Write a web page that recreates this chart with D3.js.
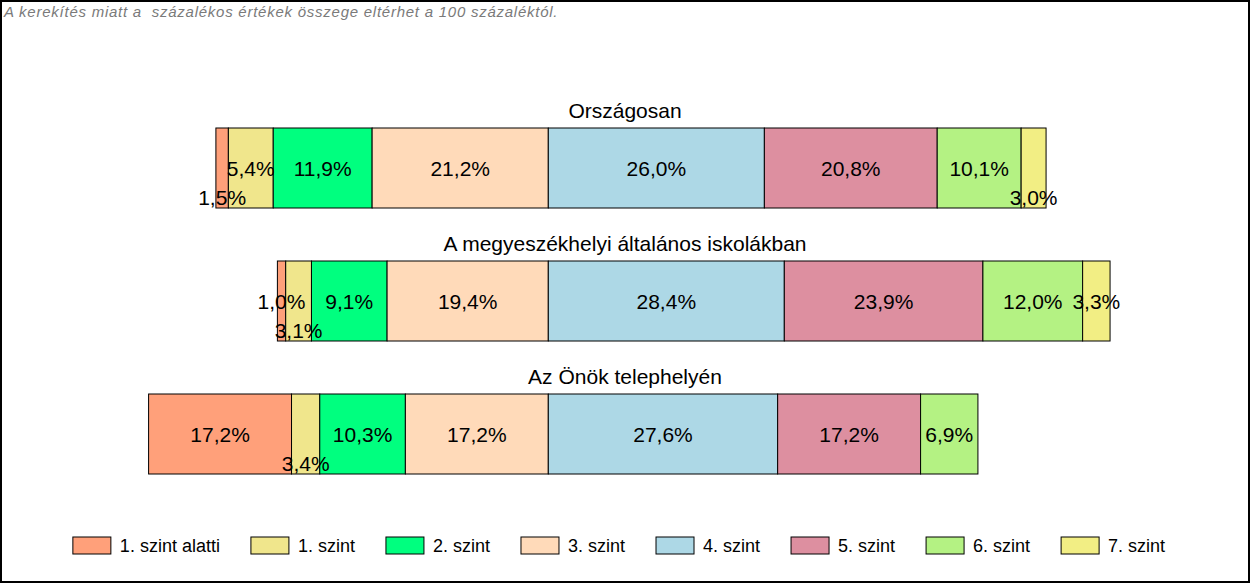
<!DOCTYPE html>
<html>
<head>
<meta charset="utf-8">
<script src="https://cdn.jsdelivr.net/npm/d3@7"></script>
<style>
  body { margin: 0; background: #fff; }
  text { font-family: "Liberation Sans", Arial, sans-serif; }
</style>
</head>
<body>
<svg width="1250" height="583"></svg>
<script>
// kategóriák (szintek) és csoportok
let levels = ["1. szint alatti", "1. szint", "2. szint", "3. szint", "4. szint", "5. szint", "6. szint", "7. szint"];
let colors = ["#FFA07A", "#F0E68C", "#00FF7F", "#FFDAB9", "#ADD8E6", "#DD8FA0", "#B4F283", "#F2EE84"];
let groups = ["Országosan", "A megyeszékhelyi általános iskolákban", "Az Önök telephelyén"];
let orszagos = [1.5, 5.4, 11.9, 21.2, 26.0, 20.8, 10.1, 3.0];
let megye = [1.0, 3.1, 9.1, 19.4, 28.4, 23.9, 12.0, 3.3];
let telephely = [17.2, 3.4, 10.3, 17.2, 27.6, 17.2, 6.9, 0];
let series = [orszagos, megye, telephely];
let note = "A kerekítés miatt a  százalékos értékek összege eltérhet a 100 százaléktól.";

let svg = d3.select("svg");
let width = +svg.attr("width");
let height = +svg.attr("height");

// keret
svg.append("rect")
  .attr("x", 1).attr("y", 1)
  .attr("width", width - 2).attr("height", height - 2)
  .attr("fill", "#fff").attr("stroke", "#000").attr("stroke-width", 2);

svg.append("text")
  .attr("x", 4).attr("y", 17)
  .attr("font-size", 15).attr("font-style", "italic")
  .attr("letter-spacing", 0.75)
  .attr("fill", "#7a7a7a")
  .style("white-space", "pre")
  .text(note);

// 0 pont a 3. és 4. szint határán
let x = d3.scaleLinear().domain([-50, 70]).range([548.3 - 50 * 8.31, 548.3 + 70 * 8.31]);
let y = d3.scalePoint().domain(groups).range([168, 434]);
let barH = 80;
let split = 4;

let fmt = v => d3.format(".1f")(v).replace(".", ",") + "%";

groups.forEach(function (gname, gi) {
  let vals = series[gi];
  let below = d3.sum(vals.slice(0, split));
  let start = -below;
  let segs = [];
  vals.forEach(function (v, i) {
    segs.push({ x0: start, x1: start + v, v: v, i: i });
    start += v;
  });
  segs = segs.filter(d => d.v > 0);

  let g = svg.append("g");
  let cy = y(gname);

  g.append("text")
    .attr("x", width / 2).attr("y", cy - barH / 2 - 10)
    .attr("text-anchor", "middle").attr("font-size", 21)
    .text(gname);

  g.selectAll("rect.seg")
    .data(segs)
    .enter()
    .append("rect")
    .attr("class", "seg")
    .attr("x", d => x(d.x0))
    .attr("y", cy - barH / 2)
    .attr("width", d => x(d.x1) - x(d.x0))
    .attr("height", barH)
    .attr("fill", d => colors[d.i])
    .attr("stroke", "#000")
    .attr("stroke-width", 1);

  let labels = g.selectAll("text.lab")
    .data(segs)
    .enter()
    .append("text")
    .attr("class", "lab")
    .attr("x", d => (x(d.x0) + x(d.x1)) / 2)
    .attr("y", cy + 7.5)
    .attr("text-anchor", "middle")
    .attr("font-size", 21)
    .text(d => fmt(d.v));

  // ütközés esetén a kisebb érték felirata lejjebb kerül
  let order = labels.nodes().slice().sort((a, b) => d3.select(b).datum().v - d3.select(a).datum().v);
  let placed = [];
  order.forEach(function (n) {
    let b = n.getBBox();
    let hit = placed.some(p => b.x < p.x + p.width + 6 && b.x + b.width + 6 > p.x);
    if (hit) {
      d3.select(n).attr("y", cy + 37);
    } else {
      placed.push(b);
    }
  });
});

// jelmagyarázat
let leg = svg.append("g");
let lx = 0;
levels.forEach(function (name, i) {
  let item = leg.append("g").attr("transform", "translate(" + lx + ",0)");
  item.append("rect")
    .attr("x", 0).attr("y", 537)
    .attr("width", 38).attr("height", 17)
    .attr("fill", colors[i]).attr("stroke", "#000");
  let t = item.append("text")
    .attr("x", 47).attr("y", 552)
    .attr("font-size", 18)
    .text(name);
  lx += 47 + t.node().getComputedTextLength() + 31;
});
let legW = lx - 31;
leg.attr("transform", "translate(" + (619 - legW / 2) + ",0)");
</script>
</body>
</html>
